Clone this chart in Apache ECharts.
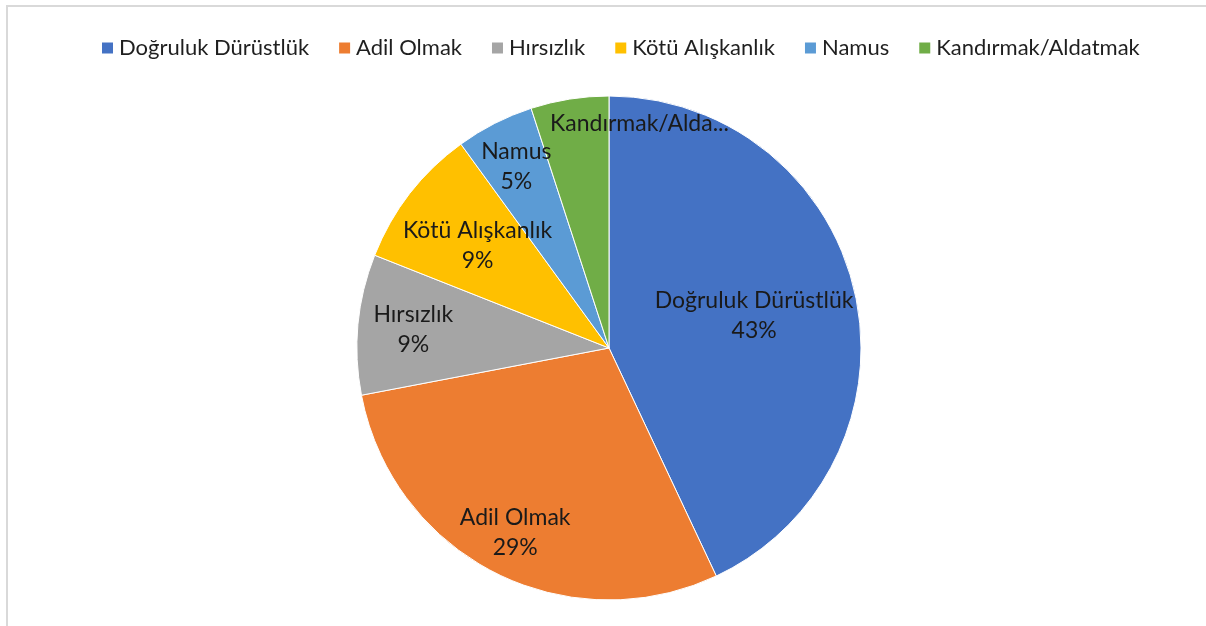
<!DOCTYPE html>
<html>
<head>
<meta charset="utf-8">
<script src="https://cdn.jsdelivr.net/npm/echarts@6/dist/echarts.min.js"></script>
<style>
  html, body { margin: 0; padding: 0; background: #fff; }
  #main { width: 1206px; height: 626px; }
</style>
</head>
<body>
<div id="main"></div>
<script>
// veriler
var categories = ['Doğruluk Dürüstlük', 'Adil Olmak', 'Hırsızlık', 'Kötü Alışkanlık', 'Namus', 'Kandırmak/Aldatmak'];
var values = [43, 29, 9, 9, 5, 5];
var colors = ['#4472C4', '#ED7D31', '#A5A5A5', '#FFC000', '#5B9BD5', '#70AD47'];

// etiket yerleşimi (Excel "en uygun" konumuna yakın)
var labelRadius = [0.59, 0.82, 0.78, 0.66, 0.81, 0.9];
var labelDx = [0, 0, 0, 0, 0, 66];

var center = [609, 348];
var radius = 252;
var total = values.reduce(function (a, b) { return a + b; }, 0);

var myChart = echarts.init(document.getElementById('main'));

myChart.setOption({
    backgroundColor: '#fff',
    textStyle: { fontFamily: 'Lato' },
    color: colors,
    graphic: [{
        type: 'polyline',
        shape: { points: [[7, 626], [7, 6], [1206, 6]] },
        style: { stroke: '#d9d9d9', lineWidth: 2, fill: null }
    }],
    legend: {
        top: 32,
        left: 95,
        itemWidth: 13,
        itemHeight: 13,
        itemGap: 28,
        icon: 'rect',
        textStyle: { fontSize: 22, color: '#1f1f1f', fontFamily: 'Lato' },
        data: categories
    },
    series: [{
        name: 'Değerler',
        type: 'pie',
        center: center,
        radius: radius,
        startAngle: 90,
        clockwise: true,
        animation: false,
        itemStyle: { borderColor: '#fff', borderWidth: 1 },
        label: {
            show: true,
            position: 'inside',
            color: '#1a1a1a',
            fontSize: 23,
            lineHeight: 30,
            fontFamily: 'Lato',
            formatter: function (p) {
                if (p.dataIndex === 5) return p.name;
                return p.name + '\n' + Math.round(p.percent) + '%';
            }
        },
        labelLine: { show: false },
        labelLayout: function (params) {
            var i = params.dataIndex;
            var before = 0;
            for (var k = 0; k < i; k++) before += values[k];
            var mid = (before + values[i] / 2) / total;
            var ang = (90 - mid * 360) * Math.PI / 180;
            var r = radius * labelRadius[i];
            return {
                x: center[0] + r * Math.cos(ang) + labelDx[i],
                y: center[1] - r * Math.sin(ang),
                align: 'center',
                verticalAlign: 'middle'
            };
        },
        data: categories.map(function (c, i) {
            var d = { name: c, value: values[i] };
            if (i === 5) {
                d.label = { width: 198, overflow: 'truncate', ellipsis: '...' };
            }
            return d;
        })
    }]
});
</script>
</body>
</html>
